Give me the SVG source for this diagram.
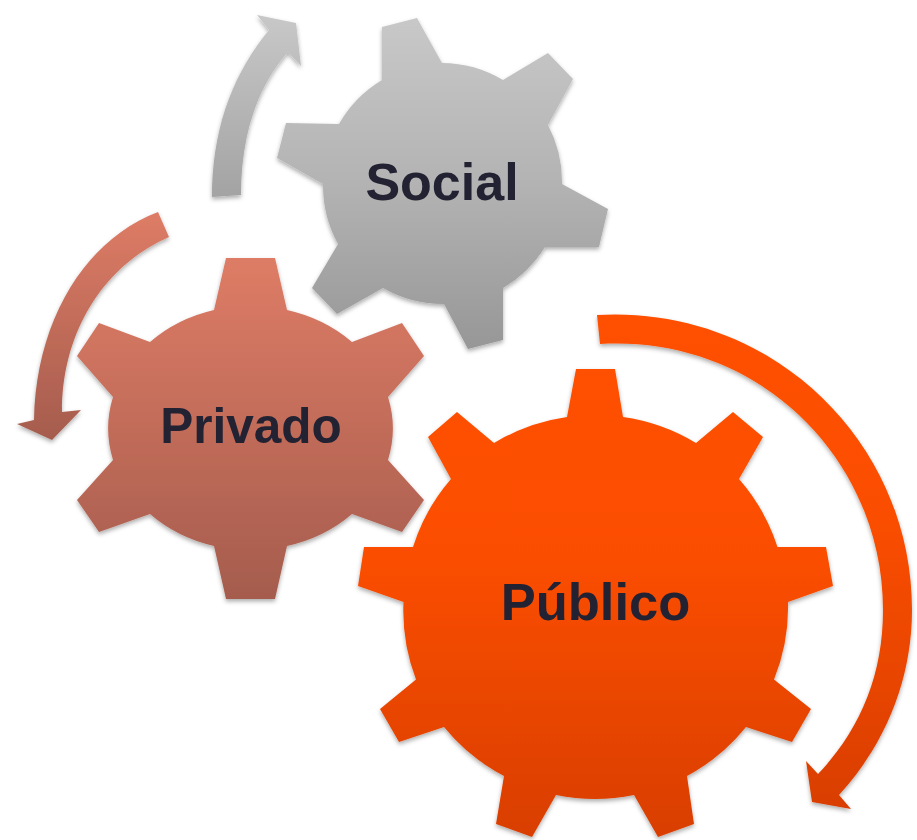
<svg xmlns="http://www.w3.org/2000/svg" width="917" height="840" viewBox="0 0 917 840">
<defs>
<linearGradient id="gs" x1="0" y1="0" x2="0" y2="1"><stop offset="0" stop-color="#c9c8c8"/><stop offset="0.5" stop-color="#b4b3b3"/><stop offset="1" stop-color="#979797"/></linearGradient>
<linearGradient id="gp" x1="0" y1="0" x2="0" y2="1"><stop offset="0" stop-color="#de7c66"/><stop offset="1" stop-color="#a55c4d"/></linearGradient>
<linearGradient id="gu" x1="0" y1="0" x2="0" y2="1"><stop offset="0" stop-color="#ff5000"/><stop offset="0.4" stop-color="#fb4e00"/><stop offset="1" stop-color="#d93e00"/></linearGradient>
<linearGradient id="as" x1="0" y1="0" x2="0" y2="1"><stop offset="0" stop-color="#c9c8c8"/><stop offset="1" stop-color="#a3a3a3"/></linearGradient>
<filter id="sh" x="-5%" y="-5%" width="110%" height="110%"><feDropShadow dx="0" dy="2.500" stdDeviation="2" flood-color="#000" flood-opacity="0.32"/></filter>
<style>.t{font-family:"Liberation Sans",Arial,sans-serif;font-weight:700;fill:#222233;text-anchor:middle}.s{filter:url(#sh)}</style>
</defs>
<g id="connectors">
<path class="s" d="M212 197 C212 130 232 75 269 30 L257 15 L296 23 L301 66 L288 52 C258 85 241 135 241 195 Z" fill="url(#as)"/>
<path class="s" d="M158 212 C85 240 36 320 34 420 L17 424 L52 440 L81 410 L62 412 C62 330 105 265 169 237 Z" fill="url(#gp)"/>
<path class="s" d="M597 315 C770 305 912 440 912 610 C912 680 885 745 839 795 L851 809 L812 802 L806 761 L818 774 C860 730 883 675 883 610 C883 460 760 335 600 344 Z" fill="url(#gu)"/>
</g>
<g id="node-social">
<path class="s" d="M382 27 L417 18 L442 63 A121 121 0 0 1 503 80 L548 53 L573 79 L548 125 A121 121 0 0 1 562 184 L608 209 L599 247 L545 247 A121 121 0 0 1 503 288 L503 340 L468 349 L444 304 A121 121 0 0 1 383 288 L337 314 L312 288 L338 244 A121 121 0 0 1 323 184 L277 158 L286 123 L339 124 A121 121 0 0 1 382 80 Z" fill="url(#gs)"/>
<text class="t" x="442" y="200" font-size="52">Social</text>
</g>
<g id="node-privado">
<path class="s" d="M226 258 L275 258 L287 310 A142 122 0 0 1 352 342 L402 323 L424 356 L388 397 A142 122 0 0 1 388 460 L424 500 L402 532 L352 514 A142 122 0 0 1 287 546 L275 599 L226 599 L214 546 A142 122 0 0 1 150 514 L99 532 L77 500 L113 460 A142 122 0 0 1 113 397 L77 356 L99 323 L150 342 A142 122 0 0 1 214 310 Z" fill="url(#gp)"/>
<text class="t" x="251" y="443" font-size="49.500">Privado</text>
</g>
<g id="node-publico">
<path class="s" d="M576 369 L615 369 L623 417 A192 192 0 0 1 696 443 L733 412 L763 437 L739 479 A192 192 0 0 1 777.500 547 L826 547 L833 586 L788 602 A192 192 0 0 1 774 679.500 L811 709 L792 742 L746 727 A192 192 0 0 1 687 776 L694 824 L658 837 L634 795 A192 192 0 0 1 556 795 L532 837 L496 824 L504 776 A192 192 0 0 1 444 727 L399 742 L380 709 L416 679.500 A192 192 0 0 1 403.500 602 L358 586 L364 547 L413 547 A192 192 0 0 1 451 479 L428 437 L457 412 L494 443 A192 192 0 0 1 567 417 Z" fill="url(#gu)"/>
<text class="t" x="595.500" y="620" font-size="52.500">Público</text>
</g>
</svg>
